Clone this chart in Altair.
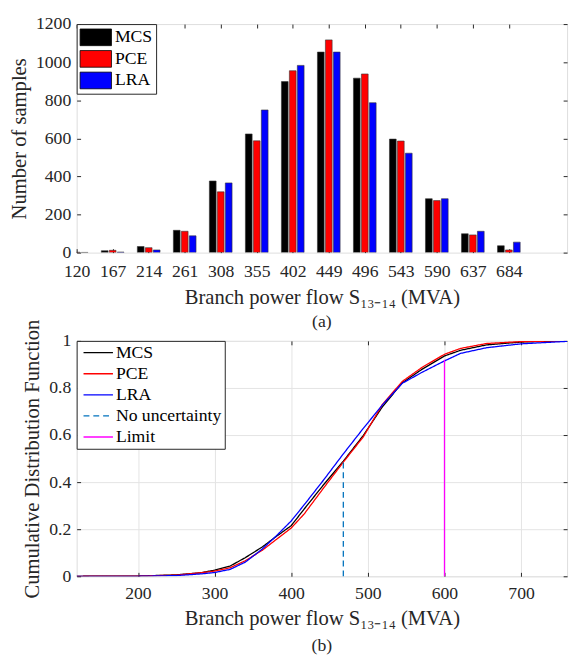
import altair as alt
import pandas as pd

# ---------------- data ----------------
bins = [120, 167, 214, 261, 308, 355, 402, 449, 496, 543, 590, 637, 684]
mcs_counts = [3, 10, 32, 117, 376, 623, 898, 1053, 916, 596, 283, 99, 36]
pce_counts = [2, 12, 26, 112, 319, 587, 955, 1117, 938, 586, 273, 93, 14]
lra_counts = [1, 3, 14, 88, 366, 749, 983, 1053, 787, 522, 283, 112, 55]
methods = ["MCS", "PCE", "LRA"]

cdf_x = [120, 200, 250, 282, 300, 320, 340, 362, 380, 400, 417, 442, 468,
         494, 519, 545, 571, 600, 621, 655, 700, 760]
mcs_cdf = [0, 0.001, 0.006, 0.015, 0.026, 0.043, 0.079, 0.124, 0.168, 0.215,
           0.286, 0.388, 0.489, 0.598, 0.72, 0.822, 0.88, 0.936, 0.96, 0.983,
           0.995, 1.0]
pce_cdf = [0, 0.001, 0.005, 0.015, 0.022, 0.036, 0.066, 0.11, 0.155, 0.205,
           0.265, 0.374, 0.485, 0.592, 0.73, 0.828, 0.888, 0.943, 0.968, 0.989,
           0.997, 1.0]
lra_cdf = [0, 0.0, 0.003, 0.01, 0.016, 0.029, 0.06, 0.115, 0.17, 0.235,
           0.304, 0.408, 0.52, 0.628, 0.728, 0.82, 0.867, 0.915, 0.947, 0.971,
           0.9875, 0.998]

no_unc_x = 468
no_unc_top = 0.489
limit_x = 600
limit_top = 0.92

series_names = ["MCS", "PCE", "LRA", "No uncertainty", "Limit"]
series_colors = ["#000000", "#FF0000", "#0000FF", "#0072BD", "#FF00FF"]
series_dash = [[1, 0], [1, 0], [1, 0], [6, 4], [1, 0]]

hist_ticks_y = [0, 200, 400, 600, 800, 1000, 1200]
cdf_ticks_x = [200, 300, 400, 500, 600, 700]
cdf_ticks_y = [0, 0.2, 0.4, 0.6, 0.8, 1]

# ---------------- frames ----------------
rows = []
for m, counts in zip(methods, [mcs_counts, pce_counts, lra_counts]):
    for b, c in zip(bins, counts):
        rows.append({"bin": b, "method": m, "count": c})
hist_df = pd.DataFrame(rows)

crow = []
for s, vals in zip(methods, [mcs_cdf, pce_cdf, lra_cdf]):
    for x, v in zip(cdf_x, vals):
        crow.append({"flow": x, "cdf": v, "series": s})
cdf_df = pd.DataFrame(crow)

rule_df = pd.DataFrame({
    "flow": [no_unc_x, limit_x],
    "y0": [0, 0],
    "y1": [no_unc_top, limit_top],
    "series": ["No uncertainty", "Limit"],
})

FONT = "Liberation Serif"
TXT = "#262626"
W = 500

base_axis = dict(
    labelFont=FONT, labelFontSize=18, labelColor=TXT,
    titleFont=FONT, titleFontSize=21, titleColor=TXT, titleFontWeight="normal",
    domain=False, tickColor=TXT, tickSize=4, offset=-4,
    labelOverlap=False, labelFlush=False,
)
x_axis_a = dict(labelPadding=10, titlePadding=7, **base_axis)
x_axis_b = dict(labelPadding=9, titlePadding=5, **base_axis)
y_axis = dict(labelPadding=6, titlePadding=6, **base_axis)
mirror_axis = dict(labels=False, title=None, domain=False, tickColor=TXT,
                   tickSize=4, offset=-4, grid=False, minExtent=0, maxExtent=0)

xscale = alt.Scale(domain=[120, 760], nice=False, zero=False)
xtitle = "Branch power flow S\u2081\u2083\u208b\u2081\u2084 (MVA)"

# ---------------- (a) histogram ----------------
yscale_a = alt.Scale(domain=[0, 1200], nice=False)

bars = alt.Chart(hist_df).transform_calculate(
    k="indexof(['MCS','PCE','LRA'], datum.method) - 1",
    x0="datum.bin + datum.k * 10.4 - 4.4",
    x1="datum.bin + datum.k * 10.4 + 4.4",
).mark_bar(stroke="#333333", strokeWidth=0.6, clip=True).encode(
    x=alt.X("x0:Q", scale=xscale,
            axis=alt.Axis(values=bins, format="d", title=xtitle, grid=False, **x_axis_a)),
    x2="x1:Q",
    y=alt.Y("count:Q", scale=yscale_a,
            axis=alt.Axis(values=hist_ticks_y, format="d", title="Number of samples",
                          grid=False, **y_axis)),
    y2=alt.datum(0),
    color=alt.Color("method:N", scale=alt.Scale(domain=methods,
                    range=["#000000", "#FF0000", "#0000FF"]),
                    legend=alt.Legend(
                        title=None, orient="top-left", offset=0,
                        strokeColor=TXT, fillColor="white", padding=3,
                        labelFont=FONT, labelFontSize=18, labelColor="#000000",
                        symbolType="M-1,-0.85L2.2,-0.85L2.2,0.85L-1,0.85Z",
                        symbolSize=400, symbolStrokeColor="#000000",
                        symbolStrokeWidth=0.8, symbolOpacity=1,
                        labelOffset=15, rowPadding=1)),
)

mirror_a = alt.Chart(hist_df).mark_point(opacity=0).encode(
    x=alt.X("bin:Q", scale=xscale,
            axis=alt.Axis(orient="top", values=bins, **mirror_axis)),
    y=alt.Y("count:Q", scale=yscale_a,
            axis=alt.Axis(orient="right", values=hist_ticks_y, **mirror_axis)),
)

chart_a = alt.layer(bars, mirror_a).resolve_axis(
    x="independent", y="independent"
).properties(
    width=W, height=233,
    title=alt.TitleParams("(a)", orient="bottom", font=FONT, fontSize=18,
                          fontWeight="normal", color=TXT, offset=6),
)

# ---------------- (b) CDF ----------------
yscale_b = alt.Scale(domain=[0, 1], nice=False)
cscale = alt.Scale(domain=series_names, range=series_colors)
dscale = alt.Scale(domain=series_names, range=series_dash)
legend_b = alt.Legend(
    title=None, orient="top-left", offset=0, strokeColor=TXT, fillColor="white",
    padding=3, labelFont=FONT, labelFontSize=18, labelColor="#000000",
    symbolType="M-1,0L5,0", symbolSize=100, symbolStrokeWidth=1.3,
    labelOffset=19, rowPadding=3.5,
)

lines = alt.Chart(cdf_df).mark_line(strokeWidth=1.3, clip=True).encode(
    x=alt.X("flow:Q", scale=xscale,
            axis=alt.Axis(values=cdf_ticks_x, format="d", title=xtitle, grid=True,
                          gridColor="#e3e3e3", **x_axis_b)),
    y=alt.Y("cdf:Q", scale=yscale_b,
            axis=alt.Axis(values=cdf_ticks_y, format="~g",
                          title="Cumulative Distribution Function", grid=True,
                          gridColor="#e3e3e3", **y_axis)),
    color=alt.Color("series:N", scale=cscale, legend=legend_b),
    strokeDash=alt.StrokeDash("series:N", scale=dscale, legend=legend_b),
)

rules = alt.Chart(rule_df).mark_rule(strokeWidth=1.3).encode(
    x=alt.X("flow:Q", scale=xscale, axis=None),
    y=alt.Y("y0:Q", scale=yscale_b, axis=None),
    y2="y1:Q",
    color=alt.Color("series:N", scale=cscale, legend=legend_b),
    strokeDash=alt.StrokeDash("series:N", scale=dscale, legend=legend_b),
)

mirror_b = alt.Chart(cdf_df).mark_point(opacity=0).encode(
    x=alt.X("flow:Q", scale=xscale,
            axis=alt.Axis(orient="top", values=cdf_ticks_x, **mirror_axis)),
    y=alt.Y("cdf:Q", scale=yscale_b,
            axis=alt.Axis(orient="right", values=cdf_ticks_y, **mirror_axis)),
)

chart_b = alt.layer(lines, rules, mirror_b).resolve_axis(
    x="independent", y="independent"
).properties(
    width=W, height=240,
    title=alt.TitleParams("(b)", orient="bottom", font=FONT, fontSize=18,
                          fontWeight="normal", color=TXT, offset=9),
)

chart = alt.vconcat(chart_a, chart_b, spacing=90, bounds="flush").resolve_scale(
    color="independent", strokeDash="independent"
).resolve_legend(color="independent").properties(
    padding={"left": 0, "top": 0, "right": 0, "bottom": 0}
).configure_view(stroke=TXT, strokeWidth=1).configure(background="white")

chart.save("out.html", embed_options={"renderer": "svg", "actions": False})
